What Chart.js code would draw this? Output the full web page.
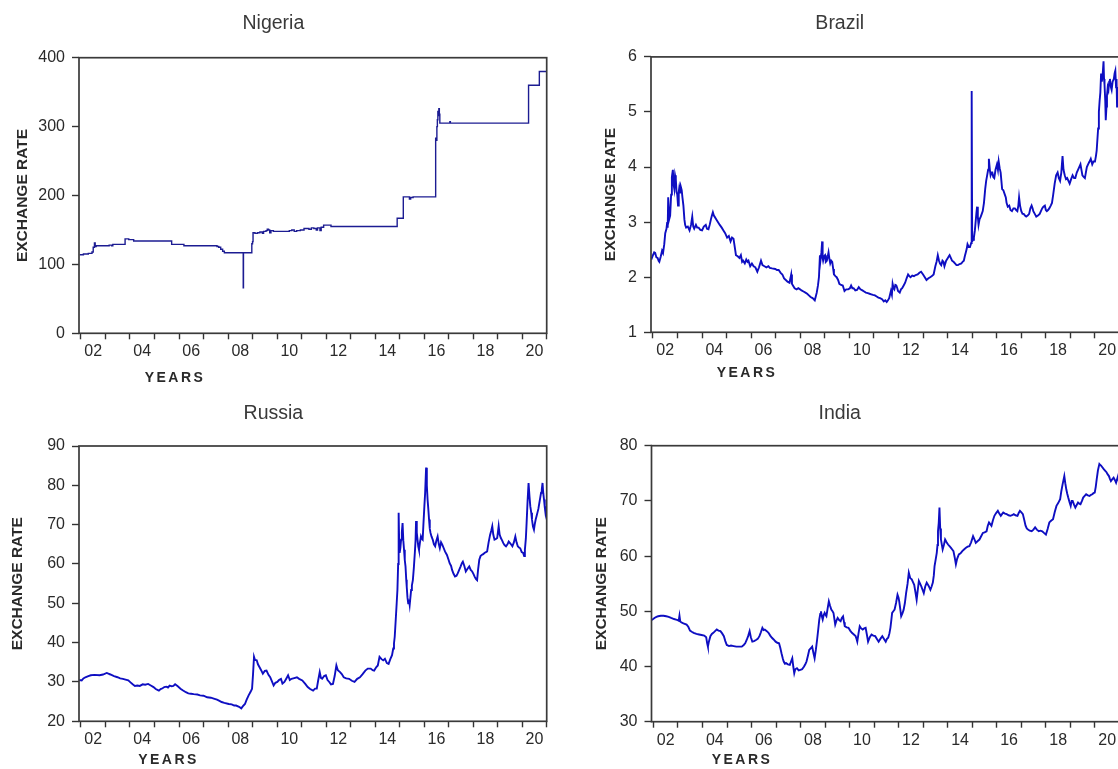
<!DOCTYPE html>
<html>
<head>
<meta charset="utf-8">
<script src="https://cdn.jsdelivr.net/npm/chart.js@4.4.1/dist/chart.umd.min.js"></script>
<style>
html,body{margin:0;padding:0;background:#fff;width:1118px;height:769px;overflow:hidden;position:relative}
canvas{position:absolute;display:block}
</style>
</head>
<body>
<canvas id="cNigeria" width="560" height="385" style="left:0;top:0"></canvas>
<canvas id="cBrazil" width="572" height="385" style="left:560px;top:0"></canvas>
<canvas id="cRussia" width="560" height="384" style="left:0;top:385px"></canvas>
<canvas id="cIndia" width="572" height="384" style="left:560px;top:385px"></canvas>
<script>
// ---------- shared axis data ----------
const xTickYears = [2002,2003,2004,2005,2006,2007,2008,2009,2010,2011,2012,2013,2014,2015,2016,2017,2018,2019,2020,2021];
const xLabelYears = [2002.5,2004.5,2006.5,2008.5,2010.5,2012.5,2014.5,2016.5,2018.5,2020.5];
const xLabels = ['02','04','06','08','10','12','14','16','18','20'];
const yAxisTitle = 'EXCHANGE RATE';
const xAxisNote = 'YEARS';

// ---------- Nigeria (stepped official rate) ----------
const nigeriaYTicks = [0,100,200,300,400];
const nigeriaYears = [2001.95,2002.10,2002.30,2002.45,2002.50,2002.55,2002.58,2002.62,2003.05,2003.15,2003.25,2003.30,2003.80,2003.95,2004.15,2005.70,2006.20,2007.55,2007.62,2007.70,2007.78,2007.85,2008.62,2008.63,2008.97,2009.00,2009.02,2009.10,2009.20,2009.30,2009.40,2009.45,2009.55,2009.60,2009.65,2009.70,2009.75,2009.85,2010.00,2010.20,2010.50,2010.60,2010.70,2010.80,2010.95,2011.10,2011.30,2011.40,2011.50,2011.60,2011.65,2011.75,2011.80,2011.90,2012.20,2014.90,2015.15,2015.40,2015.45,2015.55,2016.47,2016.50,2016.52,2016.54,2016.56,2016.58,2016.60,2016.62,2016.64,2017.05,2017.07,2020.26,2020.70,2021.00];
const nigeriaRates = [114,115,116,118,125,131,126,127,127,128,127,129,137,136,134,129,127,126,125,122,119,117,66,117,130,133,146,145,146,147,145,148,149,151,150,146,149,148,148,148,149,150,148,149,150,152,151,153,152,150,153,149,154,157,155,167,198,195,197,198,283,280,300,310,322,316,326,318,305,307,305,360,380,380];

// ---------- Brazil ----------
const brazilYTicks = [1,2,3,4,5,6];
const brazilYears = [2001.93,2002.00,2002.05,2002.09,2002.14,2002.19,2002.23,2002.26,2002.32,2002.37,2002.41,2002.46,2002.50,2002.55,2002.58,2002.60,2002.62,2002.66,2002.70,2002.74,2002.77,2002.81,2002.84,2002.87,2002.90,2002.93,2002.96,2002.99,2003.02,2003.05,2003.07,2003.10,2003.13,2003.17,2003.20,2003.24,2003.28,2003.31,2003.35,2003.42,2003.49,2003.55,2003.60,2003.64,2003.68,2003.75,2003.80,2003.86,2003.93,2004.00,2004.07,2004.15,2004.20,2004.26,2004.31,2004.36,2004.40,2004.44,2004.48,2004.51,2004.58,2004.65,2004.72,2004.80,2004.87,2004.94,2005.02,2005.09,2005.16,2005.22,2005.28,2005.33,2005.38,2005.45,2005.52,2005.58,2005.63,2005.67,2005.74,2005.80,2005.85,2005.89,2005.96,2006.03,2006.10,2006.17,2006.25,2006.32,2006.40,2006.46,2006.54,2006.62,2006.70,2006.76,2006.85,2006.98,2007.05,2007.12,2007.20,2007.27,2007.34,2007.41,2007.48,2007.56,2007.63,2007.66,2007.70,2007.77,2007.85,2007.92,2007.99,2008.05,2008.13,2008.21,2008.28,2008.35,2008.42,2008.50,2008.55,2008.59,2008.63,2008.67,2008.72,2008.76,2008.80,2008.82,2008.86,2008.89,2008.91,2008.93,2008.97,2009.01,2009.04,2009.08,2009.12,2009.15,2009.19,2009.22,2009.26,2009.30,2009.34,2009.37,2009.43,2009.48,2009.54,2009.59,2009.66,2009.73,2009.80,2009.87,2009.95,2010.02,2010.07,2010.12,2010.17,2010.24,2010.31,2010.38,2010.45,2010.53,2010.60,2010.67,2010.75,2010.82,2010.89,2010.96,2011.04,2011.11,2011.18,2011.25,2011.33,2011.40,2011.46,2011.52,2011.57,2011.62,2011.69,2011.73,2011.76,2011.80,2011.83,2011.87,2011.91,2011.95,2011.98,2012.05,2012.10,2012.15,2012.21,2012.27,2012.33,2012.39,2012.44,2012.49,2012.56,2012.63,2012.70,2012.78,2012.85,2012.92,2013.00,2013.07,2013.14,2013.22,2013.29,2013.36,2013.43,2013.50,2013.55,2013.60,2013.65,2013.69,2013.74,2013.79,2013.83,2013.87,2013.94,2014.01,2014.05,2014.08,2014.13,2014.18,2014.24,2014.30,2014.36,2014.42,2014.49,2014.56,2014.61,2014.66,2014.70,2014.74,2014.78,2014.81,2014.86,2014.91,2014.96,2014.98,2015.00,2015.04,2015.07,2015.11,2015.14,2015.17,2015.20,2015.23,2015.26,2015.30,2015.35,2015.39,2015.43,2015.48,2015.53,2015.57,2015.61,2015.65,2015.68,2015.72,2015.75,2015.79,2015.82,2015.86,2015.90,2015.95,2016.01,2016.05,2016.08,2016.12,2016.16,2016.19,2016.22,2016.27,2016.33,2016.37,2016.40,2016.45,2016.51,2016.56,2016.62,2016.68,2016.74,2016.79,2016.84,2016.88,2016.91,2016.95,2017.00,2017.05,2017.10,2017.15,2017.20,2017.26,2017.32,2017.37,2017.42,2017.46,2017.49,2017.55,2017.61,2017.68,2017.75,2017.80,2017.85,2017.90,2017.96,2018.00,2018.04,2018.09,2018.14,2018.20,2018.25,2018.30,2018.36,2018.42,2018.48,2018.53,2018.58,2018.63,2018.68,2018.72,2018.77,2018.82,2018.87,2018.92,2018.97,2019.03,2019.09,2019.15,2019.20,2019.26,2019.31,2019.36,2019.41,2019.45,2019.49,2019.54,2019.59,2019.63,2019.67,2019.72,2019.78,2019.83,2019.89,2019.94,2020.00,2020.04,2020.07,2020.10,2020.13,2020.16,2020.19,2020.22,2020.25,2020.28,2020.31,2020.35,2020.37,2020.39,2020.42,2020.44,2020.47,2020.49,2020.52,2020.55,2020.58,2020.61,2020.65,2020.68,2020.72,2020.77,2020.80,2020.83,2020.86,2020.88,2020.90,2020.93,2020.96,2020.99];
const brazilRates = [2.32,2.40,2.45,2.44,2.36,2.35,2.30,2.28,2.38,2.48,2.44,2.60,2.80,2.88,3.00,2.90,3.45,3.05,3.12,3.50,3.82,3.95,3.68,3.60,3.85,3.78,3.55,3.50,3.30,3.55,3.62,3.52,3.65,3.58,3.45,3.30,3.05,2.95,2.90,2.92,2.85,2.95,3.10,2.92,2.88,2.95,2.90,2.90,2.86,2.85,2.92,2.95,2.88,2.87,2.95,3.05,3.12,3.18,3.12,3.10,3.05,3.00,2.95,2.90,2.85,2.80,2.72,2.75,2.65,2.72,2.70,2.55,2.40,2.38,2.35,2.40,2.28,2.30,2.25,2.32,2.28,2.30,2.20,2.25,2.20,2.18,2.10,2.18,2.30,2.22,2.20,2.18,2.20,2.17,2.16,2.15,2.13,2.13,2.08,2.05,1.98,1.95,1.92,1.90,2.05,1.88,1.85,1.80,1.78,1.80,1.78,1.76,1.74,1.72,1.70,1.67,1.64,1.62,1.60,1.58,1.65,1.72,1.85,2.00,2.40,2.30,2.45,2.65,2.35,2.30,2.38,2.40,2.28,2.30,2.38,2.45,2.32,2.25,2.30,2.28,2.15,2.05,2.02,2.00,1.95,1.88,1.86,1.85,1.75,1.78,1.78,1.80,1.85,1.80,1.80,1.76,1.77,1.82,1.78,1.76,1.74,1.72,1.71,1.70,1.69,1.68,1.67,1.65,1.63,1.62,1.60,1.56,1.58,1.55,1.58,1.62,1.75,1.68,1.88,1.80,1.78,1.86,1.85,1.80,1.75,1.72,1.78,1.80,1.85,1.90,1.98,2.05,2.02,2.00,2.03,2.02,2.04,2.05,2.08,2.10,2.05,2.00,1.95,1.98,2.00,2.02,2.05,2.20,2.28,2.40,2.30,2.25,2.22,2.30,2.28,2.20,2.30,2.35,2.38,2.40,2.35,2.30,2.28,2.25,2.22,2.22,2.24,2.25,2.28,2.30,2.38,2.45,2.52,2.60,2.55,2.55,2.62,5.38,2.65,2.68,2.72,2.85,3.00,3.15,3.28,3.10,2.95,3.05,3.10,3.15,3.20,3.35,3.60,3.75,3.85,3.95,4.15,3.95,3.85,3.90,3.90,3.82,3.80,3.95,4.05,3.95,4.10,3.98,3.90,3.75,3.60,3.58,3.50,3.45,3.35,3.28,3.30,3.22,3.20,3.25,3.25,3.22,3.20,3.30,3.45,3.30,3.20,3.15,3.15,3.12,3.10,3.12,3.15,3.25,3.30,3.25,3.20,3.15,3.10,3.12,3.15,3.20,3.25,3.28,3.30,3.22,3.20,3.22,3.25,3.30,3.35,3.50,3.70,3.85,3.90,3.80,3.75,3.90,4.20,3.95,3.85,3.78,3.80,3.75,3.70,3.78,3.85,3.80,3.80,3.90,3.95,4.00,4.05,3.95,3.85,3.82,3.80,3.90,4.00,4.05,4.10,4.15,4.05,4.10,4.10,4.20,4.30,4.50,4.70,5.00,5.20,5.35,5.70,5.55,5.65,5.92,5.60,5.50,5.20,4.85,5.10,5.30,5.45,5.40,5.55,5.60,5.45,5.40,5.55,5.60,5.70,5.75,5.45,5.60,5.10,5.30,5.45,5.30];

// ---------- Russia ----------
const russiaYTicks = [20,30,40,50,60,70,80,90];
const russiaYears = [2001.93,2002.03,2002.10,2002.18,2002.30,2002.40,2002.55,2002.76,2002.90,2003.05,2003.12,2003.20,2003.35,2003.49,2003.60,2003.71,2003.82,2003.93,2004.02,2004.11,2004.20,2004.30,2004.40,2004.52,2004.62,2004.74,2004.85,2004.96,2005.05,2005.12,2005.18,2005.25,2005.33,2005.40,2005.48,2005.55,2005.62,2005.70,2005.77,2005.84,2005.95,2006.06,2006.15,2006.28,2006.38,2006.49,2006.60,2006.75,2006.86,2007.00,2007.15,2007.30,2007.45,2007.55,2007.65,2007.74,2007.85,2008.03,2008.15,2008.25,2008.33,2008.45,2008.54,2008.60,2008.69,2008.76,2008.84,2008.92,2008.98,2009.02,2009.06,2009.10,2009.17,2009.22,2009.28,2009.35,2009.42,2009.50,2009.57,2009.65,2009.72,2009.80,2009.86,2009.93,2010.01,2010.08,2010.16,2010.22,2010.30,2010.38,2010.45,2010.52,2010.59,2010.70,2010.81,2010.90,2011.03,2011.15,2011.25,2011.35,2011.47,2011.55,2011.62,2011.68,2011.74,2011.79,2011.84,2011.92,2011.99,2012.06,2012.13,2012.20,2012.28,2012.35,2012.42,2012.48,2012.57,2012.64,2012.72,2012.82,2012.94,2013.05,2013.16,2013.27,2013.38,2013.49,2013.60,2013.70,2013.82,2013.90,2013.96,2014.05,2014.11,2014.18,2014.26,2014.33,2014.40,2014.48,2014.55,2014.62,2014.69,2014.74,2014.77,2014.80,2014.84,2014.88,2014.91,2014.94,2014.96,2014.98,2015.00,2015.03,2015.06,2015.09,2015.12,2015.15,2015.18,2015.21,2015.24,2015.27,2015.29,2015.32,2015.35,2015.38,2015.41,2015.44,2015.47,2015.50,2015.54,2015.58,2015.62,2015.65,2015.67,2015.70,2015.73,2015.76,2015.79,2015.83,2015.87,2015.90,2015.94,2015.97,2016.01,2016.04,2016.08,2016.11,2016.14,2016.17,2016.20,2016.23,2016.26,2016.30,2016.35,2016.40,2016.45,2016.50,2016.55,2016.60,2016.64,2016.69,2016.74,2016.80,2016.85,2016.93,2017.00,2017.04,2017.10,2017.14,2017.20,2017.26,2017.32,2017.37,2017.43,2017.49,2017.54,2017.58,2017.64,2017.70,2017.77,2017.84,2017.90,2017.96,2018.01,2018.06,2018.11,2018.16,2018.20,2018.25,2018.30,2018.35,2018.41,2018.46,2018.52,2018.57,2018.63,2018.69,2018.74,2018.78,2018.82,2018.87,2018.93,2018.98,2019.04,2019.08,2019.13,2019.18,2019.23,2019.28,2019.34,2019.40,2019.45,2019.52,2019.60,2019.66,2019.72,2019.77,2019.82,2019.87,2019.92,2019.98,2020.04,2020.08,2020.11,2020.15,2020.18,2020.22,2020.26,2020.30,2020.33,2020.37,2020.40,2020.44,2020.48,2020.51,2020.55,2020.58,2020.62,2020.66,2020.70,2020.74,2020.77,2020.80,2020.83,2020.86,2020.89,2020.92,2020.95,2020.99];
const russiaRates = [30.5,30.4,30.9,31.2,31.5,31.7,31.8,31.7,31.9,32.3,32.1,31.9,31.5,31.2,30.9,30.8,30.6,30.4,29.9,29.4,29.0,29.1,29.0,29.4,29.3,29.5,29.1,28.7,28.2,28.0,27.8,28.2,28.4,28.7,28.8,28.6,29.1,28.9,29.0,29.4,28.9,28.3,27.9,27.4,27.1,27.0,26.9,26.8,26.6,26.5,26.1,26.0,25.7,25.5,25.2,24.9,24.7,24.4,24.3,24.0,24.0,23.7,23.3,23.8,24.4,25.5,26.6,27.5,28.3,32.0,36.4,35.6,35.5,34.5,33.8,33.0,32.1,32.8,32.9,31.8,31.2,30.0,29.1,29.8,30.0,30.5,30.8,29.6,30.0,30.9,31.7,30.5,30.8,31.0,31.2,30.8,30.4,29.5,28.7,28.2,27.8,28.3,28.3,30.5,32.5,31.0,30.8,31.5,31.7,30.5,30.0,29.4,29.5,31.5,34.2,33.0,32.5,32.0,31.2,30.9,30.8,30.3,30.0,30.8,31.2,32.0,32.9,33.4,33.4,33.0,32.9,33.8,34.2,36.4,35.8,35.5,35.9,34.8,34.6,35.8,36.8,38.5,39.8,41.5,45.7,50.0,53.4,60.0,73.0,66.0,62.8,64.0,66.2,68.0,70.4,66.0,63.6,61.0,59.4,56.0,54.2,51.5,50.0,51.0,49.6,51.5,53.4,54.5,55.9,59.0,62.8,66.0,70.9,68.0,66.2,64.5,63.6,65.5,67.0,66.5,66.2,70.0,74.7,78.0,84.5,80.0,76.4,74.0,71.3,69.0,67.9,67.0,66.2,65.0,64.5,66.0,67.0,65.0,64.0,65.5,64.9,64.0,63.2,62.3,61.0,60.2,59.5,58.5,57.5,56.8,57.0,57.6,58.5,59.4,60.2,60.6,59.5,58.1,58.8,59.4,58.5,58.1,57.5,56.8,56.2,55.9,58.5,61.1,62.0,62.3,62.5,62.8,63.0,63.2,65.5,67.4,68.5,69.6,67.5,66.2,66.4,66.6,69.6,67.5,66.6,66.0,65.3,64.8,64.5,65.0,65.7,65.2,64.5,65.5,67.0,65.5,64.5,64.2,64.0,63.0,62.8,62.0,63.6,66.5,70.4,76.0,80.6,77.0,74.7,73.0,71.3,69.5,68.7,70.0,71.3,72.0,73.0,74.0,75.5,77.0,78.1,79.0,80.6,78.0,76.4,74.5,73.0,74.7];

// ---------- India ----------
const indiaYTicks = [30,40,50,60,70,80];
const indiaYears = [2001.93,2002.04,2002.12,2002.19,2002.30,2002.41,2002.52,2002.62,2002.72,2002.84,2002.92,2002.99,2003.03,2003.06,2003.09,2003.13,2003.22,2003.35,2003.42,2003.49,2003.56,2003.64,2003.75,2003.86,2003.96,2004.07,2004.15,2004.19,2004.22,2004.26,2004.32,2004.38,2004.44,2004.51,2004.58,2004.65,2004.73,2004.80,2004.87,2004.93,2004.99,2005.08,2005.16,2005.27,2005.38,2005.49,2005.60,2005.68,2005.74,2005.80,2005.86,2005.92,2005.97,2006.03,2006.10,2006.18,2006.25,2006.32,2006.38,2006.44,2006.49,2006.54,2006.62,2006.69,2006.76,2006.83,2006.90,2006.98,2007.05,2007.12,2007.17,2007.22,2007.27,2007.31,2007.36,2007.41,2007.48,2007.56,2007.61,2007.66,2007.70,2007.74,2007.78,2007.85,2007.92,2007.99,2008.06,2008.14,2008.20,2008.24,2008.30,2008.35,2008.41,2008.47,2008.52,2008.57,2008.62,2008.67,2008.72,2008.76,2008.80,2008.83,2008.87,2008.90,2008.94,2008.98,2009.02,2009.05,2009.10,2009.15,2009.20,2009.25,2009.30,2009.34,2009.38,2009.41,2009.46,2009.51,2009.57,2009.63,2009.68,2009.73,2009.77,2009.80,2009.88,2009.95,2010.02,2010.09,2010.17,2010.24,2010.28,2010.31,2010.36,2010.41,2010.47,2010.53,2010.59,2010.65,2010.70,2010.75,2010.82,2010.89,2010.96,2011.04,2011.11,2011.18,2011.25,2011.33,2011.40,2011.47,2011.52,2011.57,2011.62,2011.66,2011.70,2011.73,2011.78,2011.83,2011.89,2011.95,2011.99,2012.02,2012.06,2012.10,2012.15,2012.20,2012.25,2012.30,2012.36,2012.41,2012.47,2012.53,2012.58,2012.63,2012.68,2012.73,2012.78,2012.82,2012.87,2012.92,2012.97,2013.02,2013.08,2013.14,2013.22,2013.29,2013.34,2013.39,2013.43,2013.46,2013.51,2013.55,2013.58,2013.60,2013.63,2013.66,2013.69,2013.72,2013.76,2013.79,2013.84,2013.89,2013.95,2014.01,2014.07,2014.13,2014.18,2014.23,2014.28,2014.33,2014.38,2014.45,2014.52,2014.59,2014.66,2014.74,2014.81,2014.88,2014.95,2015.03,2015.09,2015.14,2015.21,2015.29,2015.36,2015.43,2015.50,2015.58,2015.63,2015.68,2015.73,2015.78,2015.84,2015.90,2015.97,2016.04,2016.10,2016.16,2016.21,2016.26,2016.33,2016.40,2016.48,2016.55,2016.62,2016.69,2016.76,2016.84,2016.89,2016.94,2017.00,2017.06,2017.12,2017.17,2017.22,2017.27,2017.34,2017.42,2017.49,2017.56,2017.63,2017.71,2017.78,2017.85,2017.92,2018.00,2018.07,2018.14,2018.21,2018.29,2018.36,2018.43,2018.50,2018.58,2018.63,2018.68,2018.75,2018.79,2018.83,2018.87,2018.91,2018.96,2019.01,2019.05,2019.09,2019.15,2019.20,2019.26,2019.31,2019.36,2019.41,2019.47,2019.52,2019.58,2019.64,2019.71,2019.78,2019.84,2019.89,2019.94,2019.99,2020.03,2020.07,2020.12,2020.18,2020.22,2020.25,2020.30,2020.35,2020.41,2020.47,2020.52,2020.57,2020.61,2020.65,2020.70,2020.76,2020.81,2020.86,2020.90,2020.94,2020.99];
const indiaRates = [48.4,48.8,49.0,49.1,49.2,49.2,49.1,49.0,48.8,48.6,48.5,48.4,48.3,49.2,48.2,48.0,47.8,47.6,47.2,46.5,46.3,46.1,45.9,45.8,45.7,45.6,45.3,44.2,43.6,44.5,45.5,45.9,46.1,46.4,46.7,46.5,46.4,46.0,45.5,44.6,43.9,43.7,43.8,43.7,43.6,43.6,43.6,43.9,44.2,44.8,45.5,46.4,45.3,44.5,44.6,44.8,45.0,45.5,46.2,47.0,46.6,46.7,46.4,46.1,45.6,45.2,44.9,44.5,44.3,44.2,43.4,42.4,41.5,40.9,40.5,40.6,40.4,40.3,40.9,41.5,40.0,38.8,39.5,39.7,39.3,39.4,39.5,40.0,40.5,40.9,42.0,43.0,43.3,43.6,42.5,41.5,43.0,44.8,46.8,48.5,49.5,50.0,49.0,48.5,49.3,49.7,49.3,49.1,50.5,51.8,51.0,50.3,50.0,49.7,48.5,47.6,48.3,48.8,48.4,48.2,48.8,49.1,48.0,47.3,47.1,47.0,46.5,46.1,45.8,45.5,45.0,44.5,46.0,47.3,46.9,46.7,46.9,47.0,45.8,44.5,45.3,45.8,45.6,45.5,45.0,44.5,45.0,45.5,45.0,44.5,45.0,45.2,46.0,47.0,48.5,49.7,50.0,50.3,51.5,53.0,52.5,51.8,50.5,49.1,49.6,50.3,51.5,53.3,55.0,57.0,56.0,55.8,55.3,54.8,53.5,52.1,54.0,55.5,55.0,54.5,53.9,53.3,54.5,55.2,54.6,53.9,54.5,55.2,56.5,58.2,59.5,60.6,62.0,64.5,66.0,68.8,65.0,63.0,62.0,61.2,62.0,63.0,62.5,62.1,61.8,61.5,61.2,60.9,59.8,58.5,59.5,60.3,60.5,60.9,61.2,61.5,61.7,61.8,62.5,63.6,63.0,62.4,62.7,63.0,63.6,64.2,64.3,64.5,65.5,66.1,65.8,65.5,66.5,67.3,67.8,68.2,67.7,67.3,67.6,67.9,67.7,67.6,67.4,67.3,67.4,67.6,67.4,67.3,67.8,68.2,67.9,67.6,66.5,65.5,65.0,64.8,64.6,64.5,64.8,65.2,64.8,64.5,64.6,64.5,64.2,63.9,64.9,66.1,66.4,66.7,68.0,69.1,69.6,70.3,71.8,73.0,74.5,73.2,72.1,71.3,70.6,69.8,69.1,70.0,70.0,69.3,68.8,69.3,69.7,69.5,69.4,70.0,70.6,70.9,71.2,71.0,70.9,71.1,71.2,71.4,71.5,72.5,73.9,75.5,76.7,76.5,76.4,76.1,75.8,75.5,75.2,74.8,74.5,74.0,73.6,73.9,74.2,73.8,73.3,73.9,74.5,73.2];

// ---------- rendering ----------
const FONT = '"Liberation Sans", Arial, Helvetica, sans-serif';
const X_MIN = 2001.92, X_MAX = 2021.0;
const xTickValues = xTickYears.concat(xLabelYears).sort((a, b) => a - b);
function xLabelFor(v) { const i = xLabelYears.indexOf(v); return i >= 0 ? xLabels[i] : ''; }

const framePlugin = {
  id: 'frame',
  afterDatasetsDraw(chart, args, opts) {
    const {ctx, chartArea: a} = chart;
    ctx.save();
    ctx.strokeStyle = opts.color;
    ctx.lineWidth = opts.width;
    ctx.strokeRect(a.left, a.top, a.right - a.left, a.bottom - a.top);
    ctx.restore();
  }
};
const axisNotePlugin = {
  id: 'axisNote',
  afterDraw(chart, args, opts) {
    const {ctx, chartArea: a} = chart;
    ctx.save();
    ctx.font = opts.font;
    ctx.fillStyle = opts.color;
    try { ctx.letterSpacing = opts.spacing; } catch (e) {}
    ctx.textAlign = 'center';
    ctx.textBaseline = 'middle';
    ctx.fillText(opts.text, a.left + opts.dx, a.bottom + opts.dy);
    ctx.restore();
  }
};

function build(id, s) {
  const points = s.years.map((x, i) => ({x: x, y: s.rates[i]}));
  return new Chart(document.getElementById(id), {
    type: 'line',
    data: {datasets: [{
      label: s.title, data: points, borderColor: s.color, borderWidth: s.lw,
      pointRadius: 0, tension: 0, stepped: s.stepped, fill: false, spanGaps: true,
      borderJoinStyle: 'miter'
    }]},
    options: {
      responsive: false, animation: false, devicePixelRatio: 1,
      layout: {padding: {left: 0, top: 0, right: s.padRight, bottom: 0}},
      plugins: {
        legend: {display: false},
        tooltip: {enabled: false},
        title: {display: true, text: s.title, color: '#3a3a3a',
          font: {family: FONT, size: 19.5, weight: 'normal', lineHeight: 1.2},
          padding: {top: s.tTop, bottom: s.tBottom}},
        frame: {color: '#3a3a3a', width: 1.7},
        axisNote: {text: xAxisNote, font: 'bold 14px ' + FONT, color: '#2a2a2a',
          spacing: '2.5px', dx: s.noteDx, dy: s.noteDy}
      },
      scales: {
        x: {
          type: 'linear', min: X_MIN, max: X_MAX,
          afterFit: sc => { sc.height = s.xH; },
          afterBuildTicks: sc => { sc.ticks = xTickValues.map(v => ({value: v})); },
          ticks: {autoSkip: false, maxRotation: 0, minRotation: 0, padding: 3,
            color: '#2a2a2a', font: {family: FONT, size: 16}, callback: xLabelFor},
          grid: {drawOnChartArea: false, drawTicks: true, tickLength: 6, tickWidth: 1.4,
            tickColor: c => (c.tick && Number.isInteger(c.tick.value)) ? '#333' : 'rgba(0,0,0,0)'},
          border: {display: false}
        },
        y: {
          type: 'linear', min: s.yTicks[0], max: s.yTicks[s.yTicks.length - 1],
          afterFit: sc => { sc.width = s.yW; },
          afterBuildTicks: sc => { sc.ticks = s.yTicks.map(v => ({value: v})); },
          ticks: {padding: 7, color: '#2a2a2a', font: {family: FONT, size: 16}},
          grid: {drawOnChartArea: false, drawTicks: true, tickLength: 7, tickWidth: 1.4, tickColor: '#333'},
          border: {display: false},
          title: {display: true, text: yAxisTitle, color: '#2a2a2a',
            font: {family: FONT, size: 15.5, weight: 'bold', lineHeight: 1.2},
            padding: {top: s.yTitlePad, bottom: 0}}
        }
      }
    },
    plugins: [framePlugin, axisNotePlugin]
  });
}

const BLUE = '#0e0ec2';
build('cNigeria', {title: 'Nigeria', years: nigeriaYears, rates: nigeriaRates, yTicks: nigeriaYTicks,
  stepped: true, color: '#1c1c92', lw: 1.4,
  padRight: 13.3, tTop: 12, tBottom: 22.3, yW: 79, xH: 51.7, yTitlePad: 13, noteDx: 96, noteDy: 44.7});
build('cBrazil', {title: 'Brazil', years: brazilYears, rates: brazilRates, yTicks: brazilYTicks,
  stepped: false, color: BLUE, lw: 1.9,
  padRight: 12.5, tTop: 12, tBottom: 21.5, yW: 91, xH: 52.7, yTitlePad: 41.5, noteDx: 96, noteDy: 41});
build('cRussia', {title: 'Russia', years: russiaYears, rates: russiaRates, yTicks: russiaYTicks,
  stepped: false, color: BLUE, lw: 1.9,
  padRight: 13.3, tTop: 16.5, tBottom: 21.1, yW: 79, xH: 47.7, yTitlePad: 8.7, noteDx: 89.5, noteDy: 38.4});
build('cIndia', {title: 'India', years: indiaYears, rates: indiaRates, yTicks: indiaYTicks,
  stepped: false, color: BLUE, lw: 1.9,
  padRight: 12.5, tTop: 16.8, tBottom: 20.5, yW: 91.5, xH: 47.3, yTitlePad: 32.7, noteDx: 90.5, noteDy: 38.3});
</script>
</body>
</html>
